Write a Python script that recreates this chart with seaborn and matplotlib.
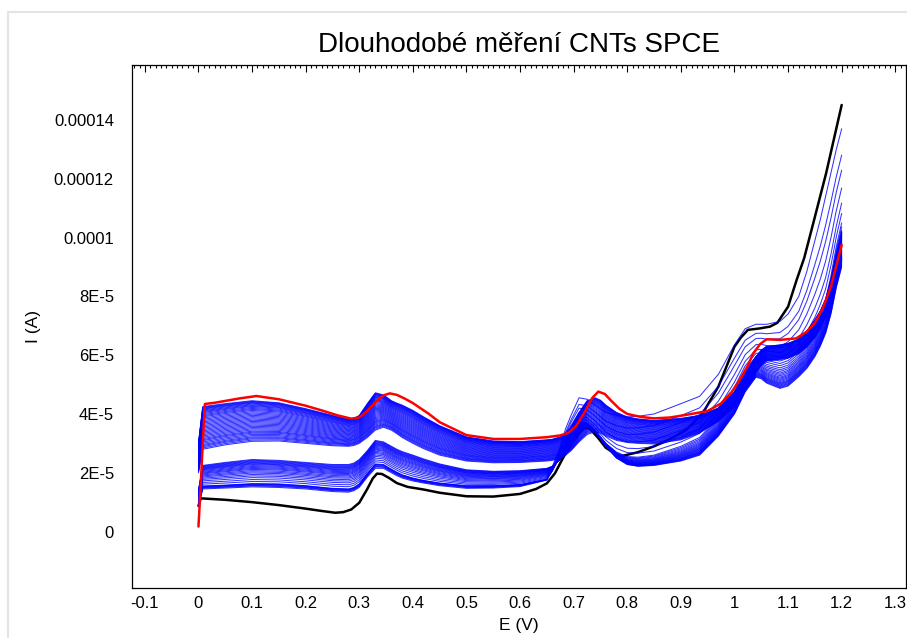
import numpy as np
import pandas as pd
import matplotlib
matplotlib.use("Agg")
import matplotlib.pyplot as plt
import seaborn as sns
from matplotlib.ticker import FixedLocator, FixedFormatter, MultipleLocator
from matplotlib.patches import Rectangle

# ---------------- data (currents in units of 1e-5 A) ----------------
SCALE = 1e-5

E_grid = [0, 0.008, 0.05, 0.1, 0.15, 0.2, 0.25, 0.28, 0.29, 0.3,
          0.315, 0.33, 0.345, 0.36, 0.37, 0.38, 0.4, 0.42, 0.45, 0.5,
          0.55, 0.6, 0.65, 0.66, 0.675, 0.685, 0.695, 0.71, 0.725, 0.74,
          0.75, 0.76, 0.78, 0.8, 0.82, 0.85, 0.9, 0.935, 0.97, 1.0,
          1.02, 1.04, 1.05, 1.06, 1.085, 1.1, 1.12, 1.135, 1.15, 1.16,
          1.17, 1.18, 1.19, 1.2]

# upper band of blue scans: lowest and highest member
band_a_low = [2.0, 2.8, 2.95, 3.07, 3.08, 3.0, 2.92, 2.9, 2.93, 3.0,
              3.2, 3.45, 3.55, 3.45, 3.33, 3.2, 3.0, 2.82, 2.6, 2.4,
              2.34, 2.35, 2.4, 2.42, 2.5, 2.6, 2.75, 3.05, 3.3, 3.4,
              3.35, 3.25, 3.1, 3.03, 3.0, 2.98, 3.12, 3.35, 3.75, 4.25,
              4.8, 5.4, 5.65, 5.8, 5.85, 5.9, 6.05, 6.28, 6.6, 6.9,
              7.3, 7.85, 8.5, 9.2]
band_a_high = [3.0, 4.25, 4.35, 4.45, 4.38, 4.18, 3.95, 3.82, 3.85, 3.95,
               4.35, 4.72, 4.65, 4.45, 4.37, 4.3, 4.12, 3.9, 3.6, 3.22,
               3.08, 3.06, 3.12, 3.14, 3.22, 3.35, 3.55, 4.05, 4.45, 4.55,
               4.47, 4.3, 4.05, 3.9, 3.83, 3.78, 3.85, 3.95, 4.2, 4.75,
               5.4, 5.95, 6.17, 6.3, 6.35, 6.4, 6.55, 6.82, 7.2, 7.5,
               7.9, 8.55, 9.4, 10.2]
# lower band of blue scans: latest scan (top at low E), last of the dense
# group, and earliest scan (bottom at low E, highest at 1.2 V)
band_b_top = [1.4, 2.25, 2.35, 2.45, 2.42, 2.35, 2.28, 2.28, 2.33, 2.45,
              2.75, 3.1, 3.05, 2.9, 2.8, 2.72, 2.6, 2.47, 2.3, 2.1,
              2.05, 2.07, 2.15, 2.22, 2.45, 2.7, 3.0, 3.45, 3.6, 3.4,
              3.15, 2.9, 2.5, 2.28, 2.22, 2.25, 2.4, 2.6, 3.25, 4.0,
              4.75, 5.25, 5.2, 5.05, 4.87, 4.95, 5.27, 5.55, 5.95, 6.3,
              6.74, 7.4, 8.3, 9.0]
band_b_turn = [0.95, 1.55, 1.58, 1.63, 1.62, 1.56, 1.47, 1.45, 1.5, 1.62,
               1.98, 2.3, 2.28, 2.12, 2.02, 1.93, 1.82, 1.74, 1.65, 1.56,
               1.56, 1.6, 1.78, 2.05, 2.6, 3.05, 3.4, 3.75, 3.7, 3.45,
               3.22, 3.0, 2.7, 2.55, 2.53, 2.6, 2.9, 3.2, 3.9, 4.75,
               5.5, 5.95, 5.97, 5.9, 5.8, 5.9, 6.2, 6.55, 7.0, 7.4,
               7.9, 8.7, 9.7, 10.5]
band_b_first = [0.85, 1.45, 1.48, 1.52, 1.5, 1.45, 1.36, 1.34, 1.39, 1.5,
                1.85, 2.15, 2.15, 2.0, 1.9, 1.82, 1.72, 1.65, 1.56, 1.47,
                1.48, 1.53, 1.75, 2.2, 2.9, 3.5, 3.95, 4.55, 4.5, 4.3,
                4.17, 4.05, 3.95, 3.9, 3.92, 4.0, 4.35, 4.6, 5.35, 6.35,
                6.9, 7.05, 7.05, 7.05, 7.15, 7.4, 8.0, 8.85, 9.9, 10.6,
                11.4, 12.2, 13.0, 13.7]

# position of every visible scan between the envelopes of its band
band_a_mix = [0.0, 0.03, 0.06, 0.085, 0.11, 0.14, 0.17, 0.2, 0.225, 0.25, 0.28,
              0.31, 0.34, 0.37, 0.4, 0.43, 0.46, 0.49, 0.52, 0.55, 0.58, 0.61,
              0.64, 0.67, 0.7, 0.73, 0.76, 0.785, 0.81, 0.835, 0.86, 0.88, 0.9,
              0.92, 0.94, 0.955, 0.97, 0.985, 1.0]
band_b_mix = [0.0, 0.03, 0.06, 0.09, 0.12, 0.15, 0.18, 0.21, 0.25, 0.29, 0.33,
              0.37, 0.41, 0.46, 0.51, 0.56, 0.62, 0.68, 0.75, 0.83, 0.91, 1.0,
              1.10, 1.21, 1.37, 1.56, 1.72, 2.0]

black_E = [0, 0.004, 0.05, 0.1, 0.15, 0.2, 0.23, 0.255, 0.27, 0.285,
           0.3, 0.315, 0.325, 0.333, 0.342, 0.355, 0.37, 0.39, 0.42, 0.45,
           0.5, 0.55, 0.6, 0.63, 0.65, 0.665, 0.68, 0.695, 0.71, 0.72,
           0.73, 0.745, 0.76, 0.786, 0.82, 0.85, 0.88, 0.91, 0.94, 0.97,
           1.0, 1.012, 1.025, 1.047, 1.066, 1.08, 1.1, 1.116, 1.13, 1.147,
           1.171, 1.2]
black_I = [0.87, 1.13, 1.08, 1.0, 0.9, 0.78, 0.7, 0.64, 0.66, 0.75,
           0.98, 1.45, 1.8, 1.97, 1.96, 1.83, 1.65, 1.52, 1.43, 1.32,
           1.2, 1.19, 1.28, 1.45, 1.64, 1.98, 2.5, 2.95, 3.35, 3.52,
           3.5, 3.2, 2.85, 2.55, 2.7, 2.9, 3.15, 3.46, 4.0, 4.93,
           6.29, 6.6, 6.86, 6.91, 6.97, 7.1, 7.65, 8.56, 9.3, 10.49,
           12.19, 14.51]

red_E = [0, 0.004, 0.008, 0.012, 0.03, 0.077, 0.108, 0.15, 0.2, 0.23,
         0.26, 0.285, 0.3, 0.315, 0.33, 0.345, 0.357, 0.37, 0.385, 0.4,
         0.43, 0.45, 0.5, 0.55, 0.6, 0.65, 0.675, 0.69, 0.705, 0.72,
         0.735, 0.746, 0.758, 0.77, 0.785, 0.8, 0.825, 0.85, 0.88, 0.91,
         0.95, 0.975, 0.995, 1.01, 1.025, 1.035, 1.048, 1.06, 1.085, 1.115,
         1.135, 1.15, 1.165, 1.18, 1.2]
red_I = [0.17, 1.5, 3.0, 4.34, 4.38, 4.53, 4.61, 4.5, 4.28, 4.12,
         3.95, 3.84, 3.88, 4.1, 4.4, 4.63, 4.7, 4.65, 4.52, 4.37,
         4.0, 3.72, 3.28, 3.15, 3.15, 3.21, 3.27, 3.36, 3.6, 4.05,
         4.55, 4.76, 4.68, 4.45, 4.18, 4.0, 3.9, 3.85, 3.88, 3.97,
         4.1, 4.36, 4.75, 5.16, 5.65, 6.06, 6.38, 6.54, 6.52, 6.57,
         6.8, 7.1, 7.6, 8.33, 9.75]

x_ticks = [-0.1, 0, 0.1, 0.2, 0.3, 0.4, 0.5, 0.6, 0.7, 0.8, 0.9, 1.0, 1.1, 1.2, 1.3]
x_labels = ["-0.1", "0", "0.1", "0.2", "0.3", "0.4", "0.5", "0.6", "0.7", "0.8",
            "0.9", "1", "1.1", "1.2", "1.3"]
y_ticks = [0, 2e-5, 4e-5, 6e-5, 8e-5, 1e-4, 1.2e-4, 1.4e-4]
y_labels = ["0", "2E-5", "4E-5", "6E-5", "8E-5", "0.0001", "0.00012", "0.00014"]


# ---------------- build long table of blue scans ----------------
def blend(envelopes, m):
    """value of a scan sitting at position m along a chain of envelope curves"""
    k = min(int(np.floor(m)), len(envelopes) - 2)
    t = m - k
    a = np.asarray(envelopes[k])
    b = np.asarray(envelopes[k + 1])
    return (1 - t) * a + t * b


rows = []
scan = 0
for envs, mixes in (([band_b_top, band_b_turn, band_b_first], band_b_mix),
                    ([band_a_low, band_a_high], band_a_mix)):
    for m in mixes:
        cur = blend(envs, m)
        for e, i in zip(E_grid, cur):
            rows.append({"E": e, "I": i * SCALE, "scan": scan})
        scan += 1
blue_df = pd.DataFrame(rows)
black_df = pd.DataFrame({"E": black_E, "I": np.asarray(black_I) * SCALE})
red_df = pd.DataFrame({"E": red_E, "I": np.asarray(red_I) * SCALE})

# ---------------- plot ----------------
sns.set_theme(style="white")
plt.rcParams["font.family"] = ["Liberation Sans", "DejaVu Sans"]
plt.rcParams["text.color"] = "black"
plt.rcParams["axes.labelcolor"] = "black"

fig = plt.figure(figsize=(9.07, 6.38), dpi=100)
ax = fig.add_axes([132 / 907, 1 - 588 / 638, (906 - 132) / 907, (588 - 65) / 638])

sns.lineplot(data=black_df, x="E", y="I", color="black", lw=1.8, ax=ax,
             sort=False, estimator=None, zorder=1)
sns.lineplot(data=blue_df, x="E", y="I", units="scan", estimator=None, sort=False,
             color="#0000ff", lw=0.75, alpha=0.8, ax=ax, zorder=2)
sns.lineplot(data=red_df, x="E", y="I", color="#ff0000", lw=1.8, ax=ax,
             sort=False, estimator=None, zorder=3)

ax.set_xlim(-0.124, 1.32)
ax.set_ylim(-1.92e-5, 1.587e-4)

ax.xaxis.set_major_locator(FixedLocator(x_ticks))
ax.xaxis.set_major_formatter(FixedFormatter(x_labels))
ax.xaxis.set_minor_locator(MultipleLocator(0.01))
ax.yaxis.set_major_locator(FixedLocator(y_ticks))
ax.yaxis.set_major_formatter(FixedFormatter(y_labels))
ax.yaxis.set_minor_locator(MultipleLocator(1e-5))

ax.tick_params(which="both", direction="in", top=True, right=True,
               labelsize=12, colors="black", width=0.8)
ax.tick_params(which="major", length=5)
ax.tick_params(which="minor", length=2.5)
ax.tick_params(axis="x", which="major", pad=6)
ax.tick_params(axis="y", which="both", direction="out")
ax.tick_params(axis="y", which="major", pad=8)

for s in ax.spines.values():
    s.set_color("black")
    s.set_linewidth(0.9)

ax.set_xlabel("E (V)", fontsize=12.5, labelpad=5)
ax.set_ylabel("I (A)", fontsize=12.5, labelpad=9)
ax.set_title("Dlouhodobé měření CNTs SPCE", fontsize=20, pad=9, color="black")
ax.grid(False)

fig.add_artist(Rectangle((8 / 907, -0.1), 1.2, 1 - 12 / 638 + 0.1,
                         transform=fig.transFigure, fill=False,
                         ec="#e4e4e4", lw=1.5, zorder=0))

fig.savefig("out.png", dpi=100, facecolor="white")
